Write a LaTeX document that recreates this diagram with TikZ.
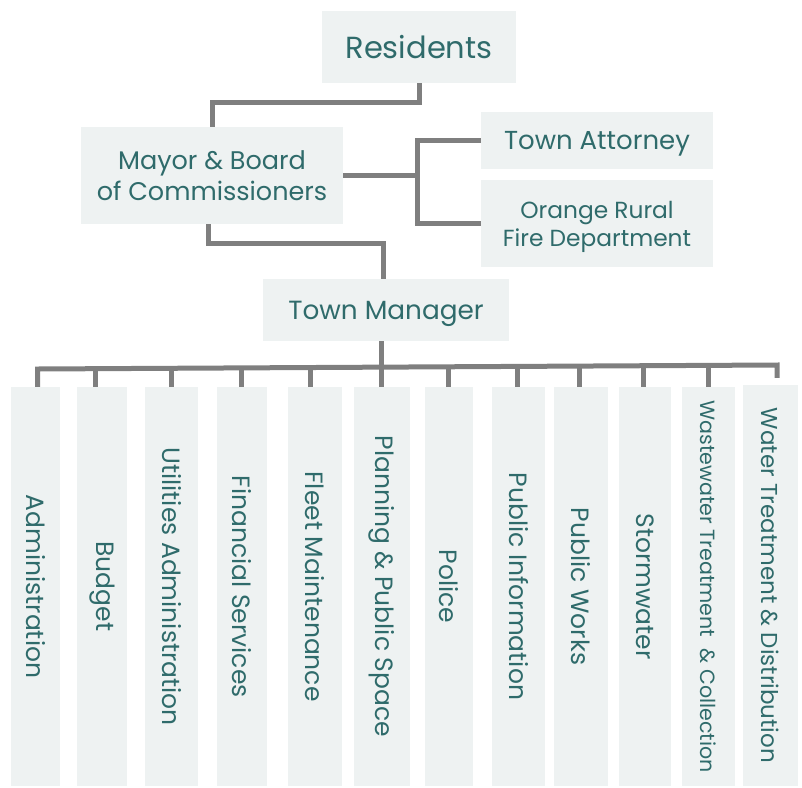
\documentclass[tikz,border=0pt]{standalone}
\usepackage{fontspec}
\setmainfont{Poppins}
\usetikzlibrary{calc}
\definecolor{boxfill}{HTML}{EEF2F2}
\definecolor{linkgray}{HTML}{7F7F7F}
\definecolor{labelteal}{HTML}{2F6B6B}
\begin{document}
\begin{tikzpicture}[x=1pt,y=-1pt,
  box/.style={fill=boxfill,draw=none,inner sep=0pt,align=center,text=labelteal},
  tier/.style={box,text depth=0pt},
  col/.style={box,minimum height=399pt},
  link/.style={draw=linkgray,line width=5pt,line join=miter}]
\useasboundingbox (0,0) rectangle (802,787);

% upper tiers
\node[tier,minimum width=194pt,minimum height=72pt,font=\fontsize{30.5}{36}\selectfont] (res) at (419,47) {Residents};
\node[tier,minimum width=262pt,minimum height=97pt,font=\fontsize{25.5}{31}\selectfont] (mayor) at (212,175.5) {Mayor \& Board\\of Commissioners};
\node[tier,minimum width=232pt,minimum height=57pt,font=\fontsize{26}{29}\selectfont] (atty) at (597,140.5) {Town Attorney};
\node[tier,minimum width=232pt,minimum height=87pt,font=\fontsize{23.3}{28}\selectfont] (fire) at (597,223.5) {Orange Rural\\Fire Department};
\node[tier,minimum width=246pt,minimum height=62pt,font=\fontsize{26.3}{30}\selectfont] (tm) at (386,310) {Town Manager};

% departments
\begin{scope}[every node/.style={col,font=\fontsize{25}{30}\selectfont}]
\node[minimum width=49pt] (c1) at (35.5,586.5) {\rotatebox{-90}{Administration}};
\node[minimum width=50pt] (c2) at (102,586.5) {\rotatebox{-90}{Budget}};
\node[minimum width=53pt] (c3) at (171.5,586.5) {\rotatebox{-90}{Utilities Administration}};
\node[minimum width=50pt] (c4) at (242,586.5) {\rotatebox{-90}{Financial Services}};
\node[minimum width=54pt] (c5) at (315,586.5) {\rotatebox{-90}{Fleet Maintenance}};
\node[minimum width=56pt] (c6) at (382,586.5) {\rotatebox{-90}{Planning \& Public Space}};
\node[minimum width=48pt] (c7) at (449,586.5) {\rotatebox{-90}{Police}};
\node[minimum width=53pt] (c8) at (518.5,586.5) {\rotatebox{-90}{Public Information}};
\node[minimum width=54pt] (c9) at (581,586.5) {\rotatebox{-90}{Public Works}};
\node[minimum width=52pt] (c10) at (645,586.5) {\rotatebox{-90}{Stormwater}};
\node[minimum width=53pt,font=\fontsize{20.6}{25}\selectfont] (c11) at (708.5,586.5) {\rotatebox{-90}{Wastewater Treatment\ \ \& Collection}};
\node[minimum width=55pt,minimum height=401pt,font=\fontsize{23}{28}\selectfont] (c12) at (770.5,585.5) {\rotatebox{-90}{Water Treatment \& Distribution}};
\end{scope}

% reporting lines
\draw[link] (res.south) -- ++(0,19) -| (mayor.north);
\coordinate (jr) at (417.5,0);
\draw[link] (mayor.east) -- (mayor.east -| jr);
\draw[link] (atty.west) -| (jr |- fire.west) -- (fire.west);
\draw[link] ([xshift=-4pt]mayor.south) -- ++(0,19) -| ([xshift=-3pt]tm.north);

% bus to departments
\coordinate (d1) at (37.7,369);
\coordinate (d2) at (95.7,368.7);
\coordinate (d3) at (171.7,368.3);
\coordinate (d4) at (241.7,367.9);
\coordinate (d5) at (310.7,367.5);
\coordinate (d6) at (381,367.1);
\coordinate (d7) at (448.7,366.8);
\coordinate (d8) at (517.7,366.4);
\coordinate (d9) at (579,366.0);
\coordinate (d10) at (643.7,365.7);
\coordinate (d11) at (708.7,365.3);
\coordinate (d12) at (777,365);
\draw[link] (tm.south -| d6) -- (d6 |- c6.north);
\draw[link] (d1 |- c1.north) -- (d1) -- (d12) -- ([yshift=7pt]d12 |- c12.north);
\foreach \i in {2,3,4,5,7,8,9,10,11}
  \draw[link] (d\i) -- (d\i |- c\i.north);
\end{tikzpicture}
\end{document}
